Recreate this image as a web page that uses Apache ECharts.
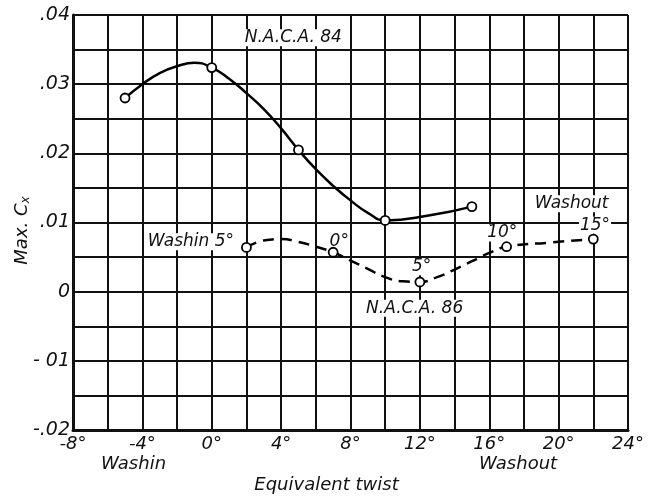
<!DOCTYPE html>
<html>
<head>
<meta charset="utf-8">
<script src="https://cdn.jsdelivr.net/npm/echarts@6/dist/echarts.min.js"></script>
<style>html,body{margin:0;padding:0;background:#fff;}#c{width:652px;height:498px;}</style>
</head>
<body>
<div id="c"></div>
<script>
// ---- data ----
// N.A.C.A. 84 measured points (open circles)
const naca84X = [-5, 0, 5, 10, 15];
const naca84Y = [0.0280, 0.0324, 0.0205, 0.0103, 0.0123];
// N.A.C.A. 84 faired curve
const naca84CurveX = [-5, -4, -3, -2, -1, 0, 1, 2, 3, 4, 5, 6, 7, 8, 9, 10, 12.5, 15];
const naca84CurveY = [0.0280, 0.0300, 0.0316, 0.0326, 0.0331, 0.0324, 0.0308, 0.0287, 0.0264, 0.0236, 0.0205, 0.0177, 0.0153, 0.0132, 0.0114, 0.0103, 0.0110, 0.0123];
// N.A.C.A. 86 measured points
const naca86X = [2, 7, 12, 17, 22];
const naca86Y = [0.0064, 0.0057, 0.0014, 0.0065, 0.0076];
// N.A.C.A. 86 faired (dashed) curve
const naca86CurveX = [2, 3, 4, 5, 6, 7, 8, 9, 10, 11, 12, 13, 14, 15, 16, 17, 19.5, 22];
const naca86CurveY = [0.0064, 0.0074, 0.0076, 0.0072, 0.0065, 0.0057, 0.0045, 0.0033, 0.0021, 0.0015, 0.0014, 0.0021, 0.0032, 0.0044, 0.0056, 0.0065, 0.0071, 0.0076];
// tick labels
const xTickValues = [-8, -4, 0, 4, 8, 12, 16, 20, 24];
const xTickLabels = ['-8°', '-4°', '0°', '4°', '8°', '12°', '16°', '20°', '24°'];
const yTickValues = [0.04, 0.03, 0.02, 0.01, 0, -0.01, -0.02];
const yTickLabels = ['.04', '.03', '.02', '.01', '0', '- 01', '-.02'];
// annotation texts and their anchor (data coordinates)
const annoText = ['N.A.C.A. 84', 'Washin 5°', '0°', '5°', 'N.A.C.A. 86', '10°', 'Washout', '15°'];
const annoX = [4.7, -1.2, 7.35, 12.1, 11.7, 16.75, 20.75, 22.1];
const annoY = [0.0367, 0.0072, 0.0073, 0.0036, -0.0024, 0.0085, 0.0127, 0.0096];

const pairs = (xs, ys) => xs.map((x, i) => [x, ys[i]]);
const FONT = 'DejaVu Sans';

const chart = echarts.init(document.getElementById('c'), null, {renderer: 'canvas'});
const lineC = '#111';

chart.setOption({
  animation: false,
  backgroundColor: '#fff',
  grid: {left: 73, right: 24, top: 15, bottom: 68, containLabel: false, outerBoundsMode: 'none'},
  xAxis: {
    type: 'value', min: -8, max: 24, interval: 2,
    name: 'Equivalent twist', nameLocation: 'middle', nameGap: 46, nameMoveOverlap: false,
    nameTextStyle: {fontFamily: FONT, fontStyle: 'italic', fontSize: 18, color: '#111', padding: [0, 48, 0, 0]},
    axisLine: {show: true, onZero: false, lineStyle: {color: lineC, width: 3}},
    axisTick: {show: false},
    splitLine: {show: true, lineStyle: {color: lineC, width: 2}},
    axisLabel: {
      margin: 5, fontFamily: FONT, fontStyle: 'italic', fontSize: 18, color: '#111',
      formatter: v => { const i = xTickValues.findIndex(t => Math.abs(t - v) < 1e-9); return i >= 0 ? xTickLabels[i] : ''; }
    }
  },
  yAxis: {
    type: 'value', min: -0.02, max: 0.04, interval: 0.005,
    name: '{a|Max. C}{b|x}', nameLocation: 'middle', nameGap: 41, nameRotate: 90, nameMoveOverlap: false,
    nameTextStyle: {
      padding: [0, 16, 0, 0],
      rich: {
        a: {fontFamily: FONT, fontStyle: 'italic', fontSize: 18, color: '#111'},
        b: {fontFamily: FONT, fontStyle: 'italic', fontSize: 12, color: '#111', padding: [8, 0, 0, 0]}
      }
    },
    axisLine: {show: true, onZero: false, lineStyle: {color: lineC, width: 3}},
    axisTick: {show: false},
    splitLine: {show: true, lineStyle: {color: lineC, width: 2}},
    axisLabel: {
      margin: 3, fontFamily: FONT, fontStyle: 'italic', fontSize: 19, color: '#111',
      formatter: v => { const i = yTickValues.findIndex(t => Math.abs(t - v) < 1e-9); return i >= 0 ? yTickLabels[i] : ''; }
    }
  },
  graphic: [
    {type: 'text', left: 101, top: 455, style: {text: 'Washin', font: 'italic 18px "DejaVu Sans"', fill: '#111'}},
    {type: 'text', left: 479, top: 455, style: {text: 'Washout', font: 'italic 18px "DejaVu Sans"', fill: '#111'}}
  ],
  series: [
    {
      type: 'line', data: pairs(naca84CurveX, naca84CurveY), smooth: 0.5, showSymbol: false, symbol: 'none',
      lineStyle: {color: '#000', width: 2.5}, z: 3
    },
    {
      type: 'line', data: pairs(naca86CurveX, naca86CurveY), smooth: 0.5, showSymbol: false, symbol: 'none',
      lineStyle: {color: '#000', width: 2.5, type: [11, 7]}, z: 3
    },
    {
      type: 'scatter', data: pairs(naca84X, naca84Y).concat(pairs(naca86X, naca86Y)), symbol: 'circle', symbolSize: 9,
      itemStyle: {color: '#fff', borderColor: '#000', borderWidth: 1.8, opacity: 1}, z: 5,
      markPoint: {
        symbol: 'circle', symbolSize: 0, silent: true,
        label: {
          show: true, position: 'inside', fontFamily: FONT, fontStyle: 'italic', fontSize: 17, color: '#111',
          backgroundColor: '#fff', padding: [0, 1], formatter: p => p.name
        },
        data: annoText.map((t, i) => ({name: t, coord: [annoX[i], annoY[i]]}))
      }
    }
  ]
});
</script>
</body>
</html>
